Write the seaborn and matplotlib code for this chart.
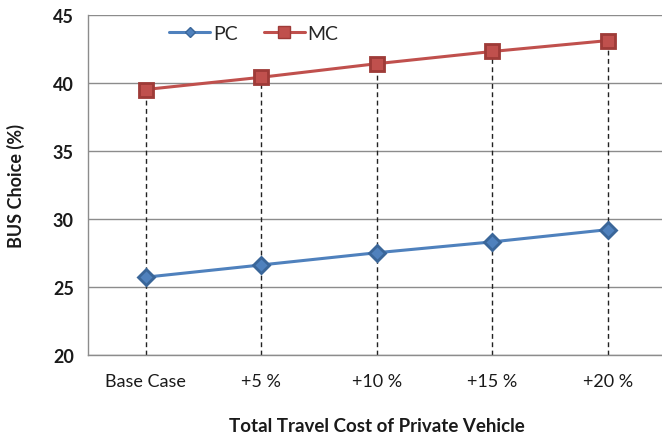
import matplotlib
matplotlib.use("Agg")
import matplotlib.pyplot as plt
import seaborn as sns
import pandas as pd
from matplotlib.lines import Line2D

# Bus choice share under increasing private-vehicle travel cost
scenarios = ["Base Case", "+5 %", "+10 %", "+15 %", "+20 %"]
pc_share = [25.7, 26.6, 27.5, 28.3, 29.2]
mc_share = [39.5, 40.4, 41.4, 42.3, 43.1]
y_ticks = [20, 25, 30, 35, 40, 45]

blue = "#4F81BD"
red = "#C0504D"
blue_edge = "#3A6699"
red_edge = "#9E3B38"

df = pd.DataFrame({
    "scenario": scenarios * 2,
    "share": pc_share + mc_share,
    "mode": ["PC"] * len(scenarios) + ["MC"] * len(scenarios),
})

sns.set_theme(style="white")
plt.rcParams["font.family"] = ["Lato", "DejaVu Sans"]

fig = plt.figure(figsize=(6.62, 4.39), dpi=100)
ax = fig.add_axes([0.1325, 0.1897, 0.8735, 0.7745])

# drop lines from the upper series down to the axis floor
ax.vlines(range(len(scenarios)), y_ticks[0], mc_share, colors="#222222",
          linestyles=(0, (3.5, 2.5)), linewidth=1.0, zorder=1)

sns.pointplot(data=df, x="scenario", y="share", hue="mode", order=scenarios,
              hue_order=["PC", "MC"], palette=[blue, red], markers=["D", "s"],
              linestyles=["-", "-"], ax=ax, legend=False, errorbar=None)

for ln in ax.lines:
    if ln.get_marker() == "D":
        ln.set_markersize(8)
        ln.set_linewidth(2.2)
        ln.set_markeredgecolor(blue_edge)
    elif ln.get_marker() == "s":
        ln.set_markersize(10)
        ln.set_linewidth(2.2)
        ln.set_markeredgecolor(red_edge)
    ln.set_zorder(3)

ax.set_xlim(-0.5, len(scenarios) - 0.5)
ax.set_ylim(y_ticks[0], y_ticks[-1])
ax.set_yticks(y_ticks)
ax.yaxis.grid(True, color="#8C8C8C", linewidth=1.0)
ax.set_axisbelow(True)

for side in ["top", "right"]:
    ax.spines[side].set_visible(False)
for side in ["left", "bottom"]:
    ax.spines[side].set_color("#8C8C8C")
    ax.spines[side].set_linewidth(1.0)

ax.tick_params(axis="y", length=6, width=1.0, color="#8C8C8C", pad=4,
               labelsize=13, labelcolor="#1a1a1a")
ax.tick_params(axis="x", length=0, pad=13, labelsize=13, labelcolor="#1a1a1a")
for lbl in ax.get_yticklabels():
    lbl.set_fontweight("bold")

ax.set_xlabel("Total Travel Cost of Private Vehicle", fontsize=13.5,
              fontweight="bold", labelpad=20, color="#1a1a1a")
ax.set_ylabel("BUS Choice (%)", fontsize=13, fontweight="bold",
              labelpad=20, color="#1a1a1a")

handles = [
    Line2D([], [], color=blue, marker="D", markersize=5, linewidth=2.2,
           markeredgecolor=blue_edge),
    Line2D([], [], color=red, marker="s", markersize=8, linewidth=2.2,
           markeredgecolor=red_edge),
]
ax.legend(handles, ["PC", "MC"], ncol=2, frameon=False, fontsize=14,
          loc="center left", bbox_to_anchor=(0.141, 0.945), handlelength=2.1,
          handletextpad=0.15, columnspacing=1.35, borderaxespad=0, borderpad=0)

fig.savefig("out.png", dpi=100)
